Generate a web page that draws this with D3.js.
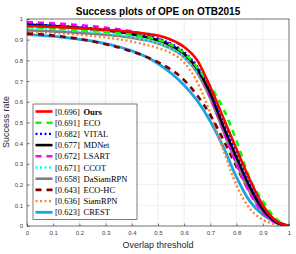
<!DOCTYPE html>
<html><head><meta charset="utf-8">
<script src="https://cdn.jsdelivr.net/npm/d3@7"></script>
<style>body{margin:0;background:#fff}svg{display:block}</style>
</head><body>
<svg id="c" width="296" height="254"></svg>
<script>
const thresholds = [0,0.05,0.1,0.15,0.2,0.25,0.3,0.35,0.4,0.45,0.5,0.55,0.6,0.65,0.7,0.75,0.8,0.85,0.9,0.95,1];
const names = ["Ours","ECO","VITAL","MDNet","LSART","CCOT","DaSiamRPN","ECO-HC","SiamRPN","CREST"];
const scores = ["0.696","0.691","0.682","0.677","0.672","0.671","0.658","0.643","0.636","0.623"];
const ours   = [0.966,0.964,0.962,0.959,0.956,0.952,0.948,0.943,0.937,0.930,0.920,0.900,0.865,0.800,0.670,0.520,0.370,0.225,0.100,0.025,0];
const eco    = [0.962,0.958,0.954,0.950,0.946,0.942,0.937,0.931,0.924,0.915,0.900,0.875,0.835,0.765,0.675,0.565,0.410,0.230,0.120,0.035,0];
const vital  = [0.975,0.972,0.968,0.964,0.960,0.955,0.949,0.942,0.933,0.921,0.905,0.880,0.840,0.770,0.655,0.500,0.355,0.210,0.090,0.020,0];
const mdnet  = [0.973,0.970,0.966,0.962,0.957,0.951,0.945,0.937,0.927,0.914,0.897,0.872,0.832,0.760,0.640,0.480,0.330,0.190,0.080,0.020,0];
const lsart  = [0.985,0.982,0.979,0.975,0.970,0.965,0.958,0.950,0.940,0.925,0.905,0.876,0.830,0.755,0.625,0.460,0.300,0.160,0.065,0.015,0];
const ccot   = [0.958,0.955,0.951,0.947,0.943,0.938,0.932,0.924,0.914,0.900,0.882,0.855,0.815,0.745,0.640,0.500,0.360,0.220,0.100,0.025,0];
const dasiam = [0.945,0.943,0.940,0.937,0.933,0.929,0.924,0.918,0.910,0.898,0.882,0.857,0.815,0.740,0.615,0.455,0.300,0.165,0.070,0.015,0];
const ecohc  = [0.930,0.926,0.920,0.913,0.904,0.892,0.878,0.862,0.843,0.820,0.792,0.755,0.705,0.630,0.535,0.415,0.285,0.165,0.075,0.025,0];
const siam   = [0.940,0.937,0.933,0.929,0.924,0.918,0.911,0.902,0.891,0.877,0.860,0.835,0.790,0.695,0.545,0.365,0.195,0.085,0.030,0.008,0];
const crest  = [0.925,0.921,0.916,0.910,0.902,0.893,0.881,0.866,0.846,0.820,0.785,0.738,0.680,0.605,0.505,0.380,0.235,0.120,0.055,0.020,0];
const seriesValues = [ours,eco,vital,mdnet,lsart,ccot,dasiam,ecohc,siam,crest];
const xTicks = [0,0.1,0.2,0.3,0.4,0.5,0.6,0.7,0.8,0.9,1];
const yTicks = [0,0.1,0.2,0.3,0.4,0.5,0.6,0.7,0.8,0.9,1];

const styles = [
  {c:"#ff0000", dash:null, w:2.6},
  {c:"#00ff00", dash:"6,5", w:2.6},
  {c:"#0000ff", dash:"2,2.5", w:2.4},
  {c:"#000000", dash:null, w:2.6},
  {c:"#ff00ff", dash:"6,5", w:2.6},
  {c:"#00ffff", dash:"2,2.5", w:2.4},
  {c:"#808080", dash:null, w:2.6},
  {c:"#800000", dash:"6,5", w:2.6},
  {c:"#ff8033", dash:"2,2.5", w:2.4},
  {c:"#1aa3e6", dash:null, w:2.8}
];

const svg = d3.select("#c");
const L=27, R=289, T=19, B=226;
const x = d3.scaleLinear().domain([0,1]).range([L,R]);
const y = d3.scaleLinear().domain([0,1]).range([B,T]);

// grid
const g = svg.append("g");
g.selectAll(".gx").data(xTicks).enter().append("line")
  .attr("x1",d=>x(d)).attr("x2",d=>x(d)).attr("y1",T).attr("y2",B)
  .attr("stroke","#e3e3e3").attr("stroke-width",0.6);
g.selectAll(".gy").data(yTicks).enter().append("line")
  .attr("y1",d=>y(d)).attr("y2",d=>y(d)).attr("x1",L).attr("x2",R)
  .attr("stroke","#e3e3e3").attr("stroke-width",0.6);

// curves (draw lower-ranked first)
const line = d3.line().x((d,i)=>x(thresholds[i])).y(d=>y(d)).curve(d3.curveMonotoneX);
const clip = svg.append("clipPath").attr("id","pc").append("rect").attr("x",L).attr("y",T-3).attr("width",R-L+2).attr("height",B-T+3);
const cg = svg.append("g").attr("clip-path","url(#pc)");
for (let k=seriesValues.length-1;k>=0;k--){
  const s = styles[k];
  cg.append("path").datum(seriesValues[k]).attr("d",line)
    .attr("fill","none").attr("stroke",s.c).attr("stroke-width",s.w)
    .attr("stroke-dasharray",s.dash).attr("stroke-linejoin","round");
}

// axes box
const ax = svg.append("g");
ax.append("rect").attr("x",L).attr("y",T).attr("width",R-L).attr("height",B-T)
  .attr("fill","none").attr("stroke","#262626").attr("stroke-width",0.6);

const xAxis = d3.axisBottom(x).tickValues(xTicks).tickSize(-2.5).tickPadding(5).tickFormat(d3.format("~g"));
const yAxis = d3.axisLeft(y).tickValues(yTicks).tickSize(-2.5).tickPadding(4).tickFormat(d3.format("~g"));
const xa = svg.append("g").attr("transform",`translate(0,${B})`).call(xAxis);
const ya = svg.append("g").attr("transform",`translate(${L},0)`).call(yAxis);
[xa,ya].forEach(a=>{
  a.select(".domain").remove();
  a.selectAll("line").attr("stroke","#262626").attr("stroke-width",0.6);
  a.selectAll("text").attr("fill","#404040").style("font-family","Liberation Sans, Arial, sans-serif").style("font-size","6px");
});

// title and labels
svg.append("text").attr("x",158).attr("y",14.5).attr("text-anchor","middle")
  .style("font-family","Liberation Sans, Arial, sans-serif").style("font-weight","bold").style("font-size","10px")
  .text("Success plots of OPE on OTB2015");
svg.append("text").attr("x",158).attr("y",247.5).attr("text-anchor","middle").attr("fill","#262626")
  .style("font-family","Liberation Sans, Arial, sans-serif").style("font-size","9px")
  .text("Overlap threshold");
svg.append("text").attr("transform","translate(8.5,122) rotate(-90)").attr("text-anchor","middle").attr("fill","#262626")
  .style("font-family","Liberation Sans, Arial, sans-serif").style("font-size","9px")
  .text("Success rate");

// legend
const lg = svg.append("g");
lg.append("rect").attr("x",33).attr("y",104).attr("width",104).attr("height",115.5)
  .attr("fill","#fff").attr("stroke","#262626").attr("stroke-width",0.6);
names.forEach((n,i)=>{
  const yy = 111.5 + i*11.2;
  const s = styles[i];
  lg.append("line").attr("x1",35.5).attr("x2",52.5).attr("y1",yy).attr("y2",yy)
    .attr("stroke",s.c).attr("stroke-width",s.w).attr("stroke-dasharray",s.dash);
  const t = lg.append("text").attr("x",55).attr("y",yy+3)
    .style("font-family","Liberation Serif, Times New Roman, serif").style("font-size","8.5px");
  t.append("tspan").text("["+scores[i]+"] ");
  t.append("tspan").attr("x",83.5).style("font-weight", i===0?"bold":"normal").text(n);
});
</script>
</body></html>
